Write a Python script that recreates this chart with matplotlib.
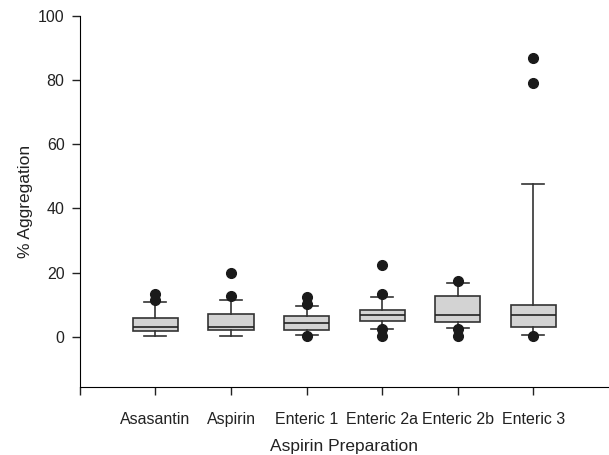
import matplotlib
matplotlib.use("Agg")
import matplotlib.pyplot as plt

plt.rcParams['font.family'] = ['Liberation Sans', 'DejaVu Sans']

# values
groups = ["Asasantin", "Aspirin", "Enteric 1", "Enteric 2a", "Enteric 2b", "Enteric 3"]
q1 = [1.9, 2.1, 2.1, 5.0, 4.5, 2.9]
med = [3.1, 2.9, 4.2, 6.7, 6.7, 6.7]
q3 = [5.7, 7.0, 6.5, 8.3, 12.7, 10.0]
whis_lo = [0.2, 0.2, 0.6, 2.5, 2.7, 0.6]
whis_hi = [10.7, 11.5, 9.6, 12.3, 16.7, 47.6]
outliers = [
    [13.4, 11.4],
    [19.8, 12.8],
    [12.5, 10.2, 0.3],
    [22.2, 13.3, 2.3, 0.2],
    [17.4, 2.3, 0.2],
    [87.0, 79.1, 0.2],
]

stats = []
for i, g in enumerate(groups):
    stats.append(dict(label=g, q1=q1[i], med=med[i], q3=q3[i],
                      whislo=whis_lo[i], whishi=whis_hi[i], fliers=outliers[i]))

fig = plt.figure(figsize=(6.09, 4.55), dpi=100)
ax = fig.add_axes([0.131, 0.150, 0.869, 0.815])

positions = list(range(1, len(groups) + 1))
ax.bxp(stats, positions=positions, widths=0.6, patch_artist=True,
       boxprops=dict(facecolor="#d3d3d3", edgecolor="#333333", linewidth=1.2),
       medianprops=dict(color="#222222", linewidth=1.2),
       whiskerprops=dict(color="#333333", linewidth=1.2),
       capprops=dict(color="#333333", linewidth=1.2),
       capwidths=0.29,
       flierprops=dict(marker="o", markerfacecolor="#1a1a1a",
                       markeredgecolor="#1a1a1a", markersize=7))

ax.set_xlim(0, 7)
ax.set_ylim(-15.6, 100)
ax.set_yticks([0, 20, 40, 60, 80, 100])
ax.set_xticks(range(0, 7))
ax.set_xticklabels([""] + groups)
ax.tick_params(direction="out", length=6, width=1, colors="#222222", labelsize=11.5)
ax.tick_params(axis="x", pad=12)
ax.tick_params(axis="y", pad=5)

ax.spines["top"].set_visible(False)
ax.spines["right"].set_visible(False)
ax.spines["left"].set_bounds(-15.6, 100)

ax.set_xlabel("Aspirin Preparation", fontsize=12.5, color="#222222", labelpad=9)
ax.set_ylabel("% Aggregation", fontsize=12.5, color="#222222", labelpad=3.5)

fig.savefig("out.png", dpi=100)
